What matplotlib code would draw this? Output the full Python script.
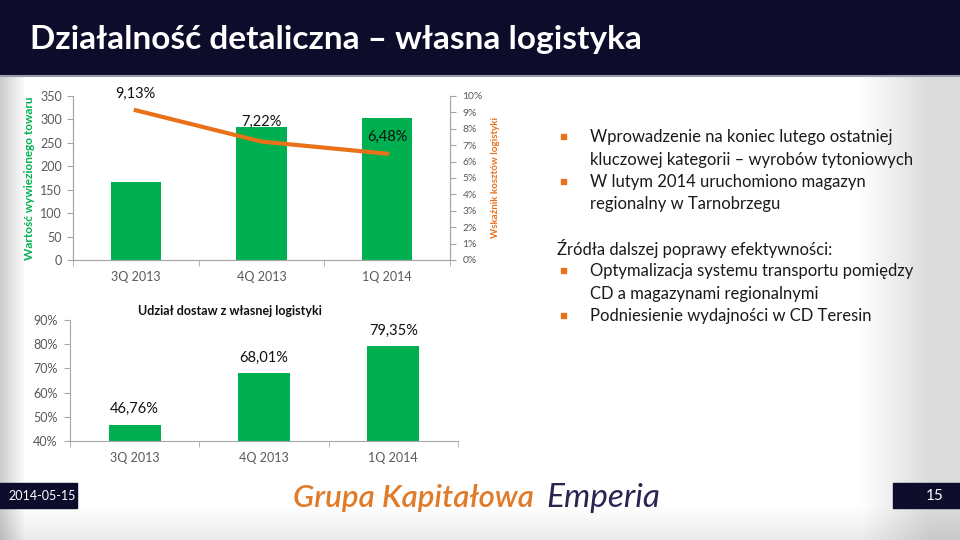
import matplotlib.pyplot as plt
import numpy as np

plt.rcParams['font.family'] = ['Lato', 'DejaVu Sans']

W, H = 960, 540

quarters = ['3Q 2013', '4Q 2013', '1Q 2014']
goods_value = [166, 284, 303]
cost_ratio = [9.13, 7.22, 6.48]
cost_labels = ['9,13%', '7,22%', '6,48%']
own_share = [46.76, 68.01, 79.35]
share_labels = ['46,76%', '68,01%', '79,35%']

bullets_top = ['Wprowadzenie na koniec lutego ostatniej\nkluczowej kategorii – wyrobów tytoniowych',
               'W lutym 2014 uruchomiono magazyn\nregionalny w Tarnobrzegu']
sources_title = 'Źródła dalszej poprawy efektywności:'
bullets_bottom = ['Optymalizacja systemu transportu pomiędzy\nCD a magazynami regionalnymi',
                  'Podniesienie wydajności w CD Teresin']

GREEN = '#00B050'
ORANGE = '#E8711A'
NAVY = '#0D0C2B'
TICK = '#595959'
AXIS = '#A6A6A6'


def box(l, t, r, b):
    return [l / W, 1 - b / H, (r - l) / W, (b - t) / H]


def style_axis(ax, spines):
    for s in ['left', 'right', 'bottom', 'top']:
        if s in spines:
            ax.spines[s].set_color(AXIS)
        else:
            ax.spines[s].set_visible(False)


fig = plt.figure(figsize=(9.6, 5.4), dpi=100)

# background with soft grey edges
bg = fig.add_axes([0, 0, 1, 1])
xs = np.arange(W)
ys = np.arange(H)
shade = np.ones(W)
shade = np.minimum(shade, 0.80 + 0.20 * np.clip(xs / 25, 0, 1))
shade = np.minimum(shade, 1 - 0.14 * np.clip((xs - 860) / 70, 0, 1))
vshade = 1 - 0.08 * np.clip((ys - 505) / 35, 0, 1)
img = np.outer(vshade, np.ones(W)) * np.tile(shade, (H, 1))
bg.imshow(np.dstack([img] * 3), aspect='auto', extent=[0, W, H, 0])
bg.set_xlim(0, W)
bg.set_ylim(H, 0)
bg.axis('off')

# header
bg.add_patch(plt.Rectangle((0, 0), W, 75, color=NAVY))
bg.plot([0, W], [76, 76], color='#9a9aa8', lw=1.5)
bg.text(30, 39, 'Działalność detaliczna – własna logistyka', color='white',
        fontsize=24, fontweight='bold', va='center', ha='left')

# footer
bg.add_patch(plt.Rectangle((0, 483), 77, 25, color=NAVY))
bg.add_patch(plt.Rectangle((893, 483), 67, 25, color=NAVY))
bg.text(8, 496, '2014-05-15', color='white', fontsize=9, va='center')
bg.text(944, 496, '15', color='white', fontsize=11, va='center', ha='right')
bg.text(293, 498, 'Grupa Kapitałowa', color='#E07B2A', fontsize=22.5,
        style='italic', fontweight='semibold', va='center', ha='left')
bg.text(546, 498, 'Emperia', color='#2A2550', fontsize=24,
        style='italic', va='center', ha='left')

# top chart: bars + line
ax1 = fig.add_axes(box(73, 96, 450, 260))
x = np.arange(len(quarters))
ax1.bar(x, goods_value, width=0.4, color=GREEN, zorder=2)
ax1.set_xlim(-0.5, 2.5)
ax1.set_ylim(0, 350)
ax1.set_yticks(range(0, 351, 50))
ax1.set_xticks(x)
ax1.set_xticklabels(quarters)
ax1.set_xticks([-0.5, 0.5, 1.5, 2.5], minor=True)
ax1.tick_params(axis='x', which='major', length=0, pad=8, colors=TICK, labelsize=9)
ax1.tick_params(axis='x', which='minor', length=4, color=AXIS)
ax1.tick_params(axis='y', length=4, color=AXIS, labelcolor=TICK, labelsize=9, pad=4)
style_axis(ax1, ['left', 'right', 'bottom'])
ax1.patch.set_visible(False)
ax1.set_ylabel('Wartość wywiezionego towaru', color=GREEN, fontweight='bold',
               fontsize=8.5, labelpad=4)

ax2 = ax1.twinx()
ax2.plot(x, cost_ratio, color=ORANGE, lw=3, zorder=3)
ax2.set_ylim(0, 10)
ax2.set_yticks(range(0, 11))
ax2.set_yticklabels([f'{v}%' for v in range(0, 11)])
ax2.tick_params(axis='y', length=4, color=AXIS, labelcolor=TICK, labelsize=7.5, pad=5)
style_axis(ax2, ['left', 'right', 'bottom'])
ax2.set_ylabel('Wskaźnik kosztów logistyki', color=ORANGE, fontweight='bold',
               fontsize=7, labelpad=6)
label_rise = [12, 14, 12]
for i, (v, lab) in enumerate(zip(cost_ratio, cost_labels)):
    ax2.annotate(lab, (x[i], v), xytext=(0, label_rise[i]), textcoords='offset points',
                 ha='center', va='center', fontsize=10.5, color='#111111')

# bottom chart
ax3 = fig.add_axes(box(70, 320, 458, 441))
ax3.bar(x, own_share, width=0.4, color=GREEN, zorder=2)
ax3.set_xlim(-0.5, 2.5)
ax3.set_ylim(40, 90)
ax3.set_yticks(range(40, 91, 10))
ax3.set_yticklabels([f'{v}%' for v in range(40, 91, 10)])
ax3.set_xticks(x)
ax3.set_xticklabels(quarters)
ax3.set_xticks([-0.5, 0.5, 1.5, 2.5], minor=True)
ax3.tick_params(axis='x', which='major', length=0, pad=8, colors=TICK, labelsize=9)
ax3.tick_params(axis='x', which='minor', length=4, color=AXIS)
ax3.tick_params(axis='y', length=4, color=AXIS, labelcolor=TICK, labelsize=9, pad=5)
style_axis(ax3, ['left', 'bottom'])
ax3.patch.set_visible(False)
for i, (v, lab) in enumerate(zip(own_share, share_labels)):
    ax3.annotate(lab, (x[i], v), xytext=(0, 11), textcoords='offset points',
                 ha='center', va='center', fontsize=10.5, color='#111111')
bg.text(230, 311, 'Udział dostaw z własnej logistyki', fontsize=9, fontweight='bold',
        ha='center', va='center', color='#111111')


# right text block
def bullet_block(lines, top, step):
    y = top
    for item in lines:
        bg.add_patch(plt.Rectangle((561, y - 3), 5, 5, color=ORANGE))
        for part in item.split('\n'):
            bg.text(590, y, part, fontsize=12, va='center', ha='left', color='#1a1a1a')
            y += step
    return y


bullet_block(bullets_top, 137, 22.5)
bg.text(557, 248, sources_title, fontsize=12, va='center', ha='left', color='#1a1a1a')
bullet_block(bullets_bottom, 271, 22.5)

fig.savefig('out.png', dpi=100)
